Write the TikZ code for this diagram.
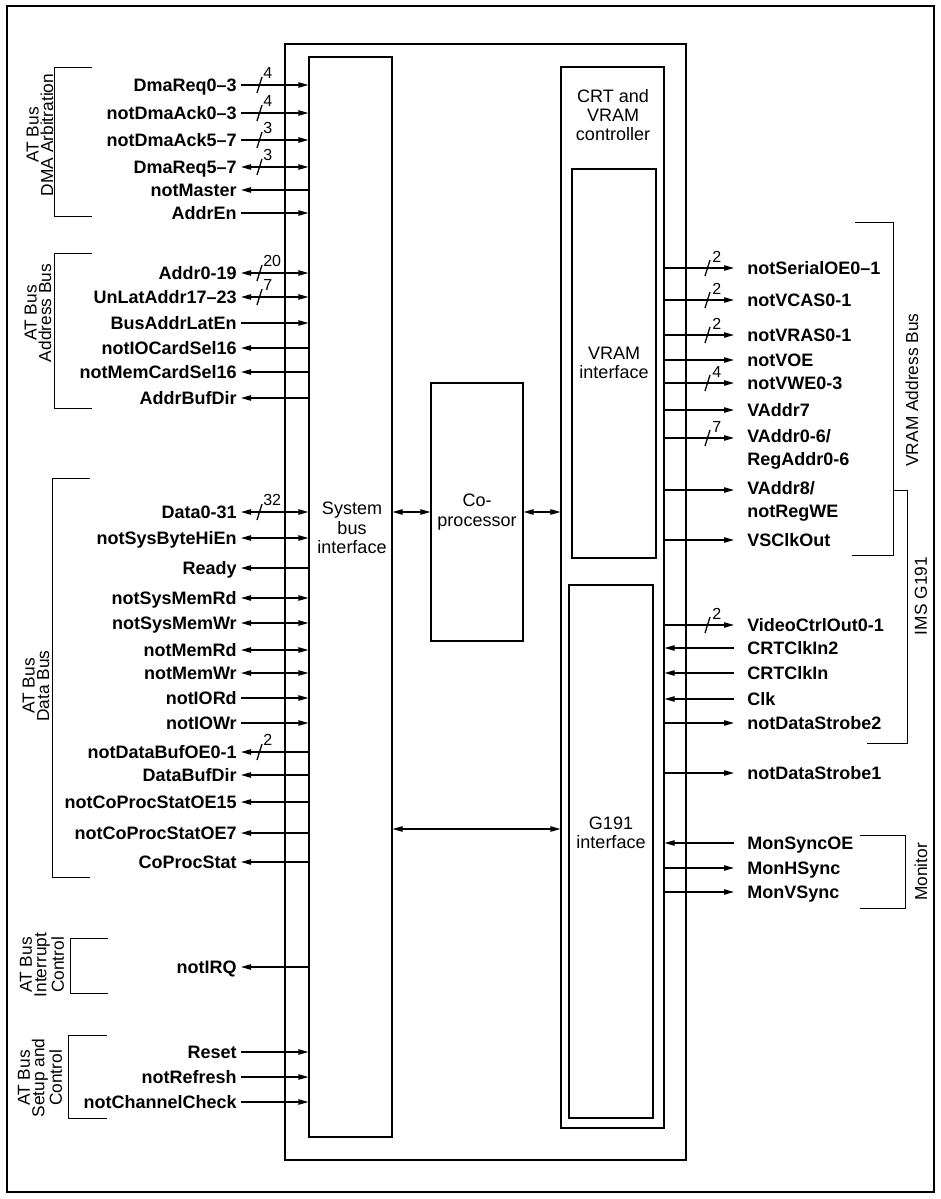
\documentclass[tikz,border=0pt]{standalone}
\usepackage{fontspec}
\setmainfont{Liberation Sans}
\usetikzlibrary{arrows.meta,calc,fit}
\tikzset{
  >={Triangle[length=7.5pt,width=4pt]},
  wire/.style={line width=0.95pt},
  box/.style={draw, line width=0.8pt, inner sep=0pt},
  sig/.style={font=\bfseries\fontsize{13.5}{17}\selectfont, inner sep=0pt, text height=9.7pt, text depth=0pt},
  sigtwo/.style={font=\bfseries\fontsize{13.5}{17.5}\selectfont, inner sep=0pt, align=left},
  bus/.style={font=\fontsize{12}{13}\selectfont, inner sep=0pt},
  blk/.style={font=\fontsize{13.5}{14.5}\selectfont, align=center, inner sep=0pt},
  grp/.style={font=\fontsize{13}{11}\selectfont, align=center, inner sep=0pt, rotate=90},
  brk/.style={line width=0.7pt},
}
% left-side signal: name, y, text, arrow spec, bus width
\newcommand\LS[5]{%
  \coordinate (#1) at (241,#2);
  \node[sig, anchor=east] (#1t) at (237,#2) {#3};
  \draw[wire,#4] (#1) -- (#1 -| sbi.west);
  \if\relax\detokenize{#5}\relax\else
    \draw[wire] ($(#1)+(16,8)$) -- ($(#1)+(21,-8)$);
    \node[bus, anchor=west] (#1b) at ($(#1)+(22,-12)$) {#5};
  \fi}
% right-side signal
\newcommand\RS[5]{%
  \coordinate (#1) at (734,#2);
  \node[sig, anchor=west] (#1t) at (747,#2) {#3};
  \draw[wire,#4] (#1 -| crt.east) -- (#1);
  \if\relax\detokenize{#5}\relax\else
    \draw[wire] ($(#1)+(-29,8)$) -- ($(#1)+(-24,-8)$);
    \node[bus, anchor=west] (#1b) at ($(#1)+(-22,-11)$) {#5};
  \fi}
\begin{document}
\begin{tikzpicture}[x=0.75pt, y=-0.75pt]
\useasboundingbox (0,0) rectangle (940,1199);
% outer frame
\draw[line width=0.8pt] (7,6) rectangle (934,1192);

% blocks
\coordinate (chipA) at (285,44);  \coordinate (chipB) at (686,1160);
\node[box, fit=(chipA)(chipB)] (chip) {};
\coordinate (sbiA) at (309,57);   \coordinate (sbiB) at (392,1137);
\node[box, fit=(sbiA)(sbiB)] (sbi) {};
\coordinate (copA) at (431,383);  \coordinate (copB) at (523,641);
\node[box, fit=(copA)(copB)] (cop) {};
\coordinate (crtA) at (561,67);   \coordinate (crtB) at (664,1128);
\node[box, fit=(crtA)(crtB)] (crt) {};
\coordinate (vriA) at (572,169);  \coordinate (vriB) at (656,558);
\node[box, fit=(vriA)(vriB)] (vri) {};
\coordinate (g19A) at (569,585);  \coordinate (g19B) at (653,1118);
\node[box, fit=(g19A)(g19B)] (g19) {};

\node[blk] (sbit) at (352,528) {System\\bus\\interface};
\node[blk] (copt) at (477,512) {Co-\\processor};
\node[blk] (crtt) at (613,115) {CRT and\\VRAM\\controller};
\node[blk] (vrit) at (614,363) {VRAM\\interface};
\node[blk] (g19t) at (611,833) {G191\\interface};

% internal connections
\draw[wire,<->] (cop.west -| sbi.east) -- (cop.west);
\draw[wire,<->] (cop.east) -- (cop.east -| crt.west);
\coordinate (midbus) at (470,829);
\draw[wire,<->] (midbus -| sbi.east) -- (midbus -| crt.west);

% left signals
\LS{dreqA}{85}{DmaReq0--3}{->}{4}
\LS{dackA}{113}{notDmaAck0--3}{->}{4}
\LS{dackB}{140}{notDmaAck5--7}{->}{3}
\LS{dreqB}{167}{DmaReq5--7}{<->}{3}
\LS{master}{190}{notMaster}{<-}{}
\LS{addren}{213}{AddrEn}{->}{}
\LS{addr}{273}{Addr0-19}{<->}{20}
\LS{unlat}{297}{UnLatAddr17--23}{<->}{7}
\LS{balen}{323}{BusAddrLatEn}{->}{}
\LS{iocs}{348}{notIOCardSel16}{<-}{}
\LS{memcs}{372}{notMemCardSel16}{<-}{}
\LS{abdir}{398}{AddrBufDir}{<-}{}
\LS{data}{512}{Data0-31}{<->}{32}
\LS{sbhe}{538}{notSysByteHiEn}{<->}{}
\LS{ready}{568}{Ready}{<-}{}
\LS{smrd}{598}{notSysMemRd}{<->}{}
\LS{smwr}{623}{notSysMemWr}{<->}{}
\LS{mrd}{650}{notMemRd}{<->}{}
\LS{mwr}{673}{notMemWr}{<->}{}
\LS{iord}{698}{notIORd}{->}{}
\LS{iowr}{723}{notIOWr}{->}{}
\LS{dboe}{752}{notDataBufOE0-1}{<-}{2}
\LS{dbdir}{775}{DataBufDir}{<-}{}
\LS{cpoeA}{802}{notCoProcStatOE15}{<-}{}
\LS{cpoeB}{833}{notCoProcStatOE7}{<-}{}
\LS{cpst}{862}{CoProcStat}{<-}{}
\LS{irq}{967}{notIRQ}{<-}{}
\LS{reset}{1052}{Reset}{->}{}
\LS{refr}{1077}{notRefresh}{->}{}
\LS{chchk}{1102}{notChannelCheck}{->}{}

% right signals
\RS{seroe}{268}{notSerialOE0--1}{->}{2}
\RS{vcas}{300}{notVCAS0-1}{->}{2}
\RS{vras}{335}{notVRAS0-1}{->}{2}
\RS{voe}{360}{notVOE}{->}{}
\RS{vwe}{383}{notVWE0-3}{->}{4}
\RS{vaddrS}{410}{VAddr7}{->}{}
% two-line labels
\coordinate (vaddrA) at (734,438);
\node[sigtwo, anchor=north west] (vaddrAt) at (747,429) {VAddr0-6/\\RegAddr0-6};
\draw[wire,->] (vaddrA -| crt.east) -- (vaddrA);
\draw[wire] ($(vaddrA)+(-29,8)$) -- ($(vaddrA)+(-24,-8)$);
\node[bus, anchor=west] (vaddrAb) at ($(vaddrA)+(-22,-11)$) {7};
\coordinate (vaddrB) at (734,490);
\node[sigtwo, anchor=north west] (vaddrBt) at (747,481) {VAddr8/\\notRegWE};
\draw[wire,->] (vaddrB -| crt.east) -- (vaddrB);
\RS{vsclk}{540}{VSClkOut}{->}{}
\RS{vctl}{625}{VideoCtrlOut0-1}{->}{2}
\RS{crtclkB}{648}{CRTClkIn2}{<-}{}
\RS{crtclkA}{673}{CRTClkIn}{<-}{}
\RS{clk}{699}{Clk}{<-}{}
\RS{dsB}{723}{notDataStrobe2}{->}{}
\RS{dsA}{773}{notDataStrobe1}{->}{}
\RS{msoe}{843}{MonSyncOE}{<-}{}
\RS{mhs}{868}{MonHSync}{->}{}
\RS{mvs}{892}{MonVSync}{->}{}

% brackets, left
\draw[brk] (92,67) -| (54,216) -- (92,216);
\draw[brk] (92,253) -| (54,408) -- (92,408);
\draw[brk] (90,478) -| (52,877) -- (90,877);
\draw[brk] (108,938) -| (70,993) -- (108,993);
\draw[brk] (107,1035) -| (68,1118) -- (107,1118);
% brackets, right
\draw[brk] (855,222) -| (893,555) -- (852,555);
\draw[brk] (893,490) -| (907,743) -- (867,743);
\draw[brk] (860,835) -| (905,908) -- (860,908);

% group labels
\node[grp] (gdma) at (40,135) {AT Bus\\DMA Arbitration};
\node[grp] (gadr) at (38,313) {AT Bus\\Address Bus};
\node[grp] (gdat) at (36,686) {AT Bus\\Data Bus};
\node[grp] (gint) at (42,965) {AT Bus\\Interrupt\\Control};
\node[grp] (gset) at (40,1078) {AT Bus\\Setup and\\Control};
\node[grp] (gvram) at (912,390) {VRAM Address Bus};
\node[grp] (gims) at (921,596) {IMS G191};
\node[grp] (gmon) at (921,872) {Monitor};
\end{tikzpicture}
\end{document}
